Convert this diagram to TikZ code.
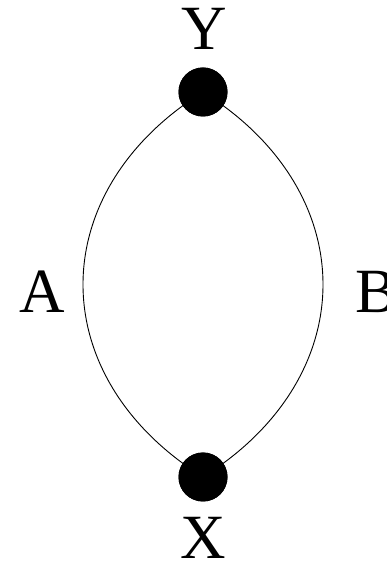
\documentclass[tikz,border=0pt]{standalone}
\usepackage{fontspec}
\setmainfont{Liberation Serif}
\begin{document}
\begin{tikzpicture}[x=1pt,y=1pt,
  vertex/.style={circle,fill=black,inner sep=0pt,minimum size=49pt},
  lbl/.style={inner sep=0pt,font=\fontsize{63}{63}\selectfont},
  edge/.style={line width=0.9pt}]
\useasboundingbox (0,0) rectangle (387,568);
\node[vertex] (y) at (203,476) {};
\node[vertex] (x) at (203,91) {};
\node[lbl] (ly) at (204,539) {Y};
\node[lbl] (lx) at (203,30) {X};
\node[lbl] (la) at (42,276) {A};
\node[lbl,anchor=west] (lb) at (355,276) {B};
\draw[edge] (y.center) .. controls (43,376) and (43,191) .. (x.center);
\draw[edge] (y.center) .. controls (363,376) and (363,191) .. (x.center);
\node[vertex] at (y) {};
\node[vertex] at (x) {};
\end{tikzpicture}
\end{document}
